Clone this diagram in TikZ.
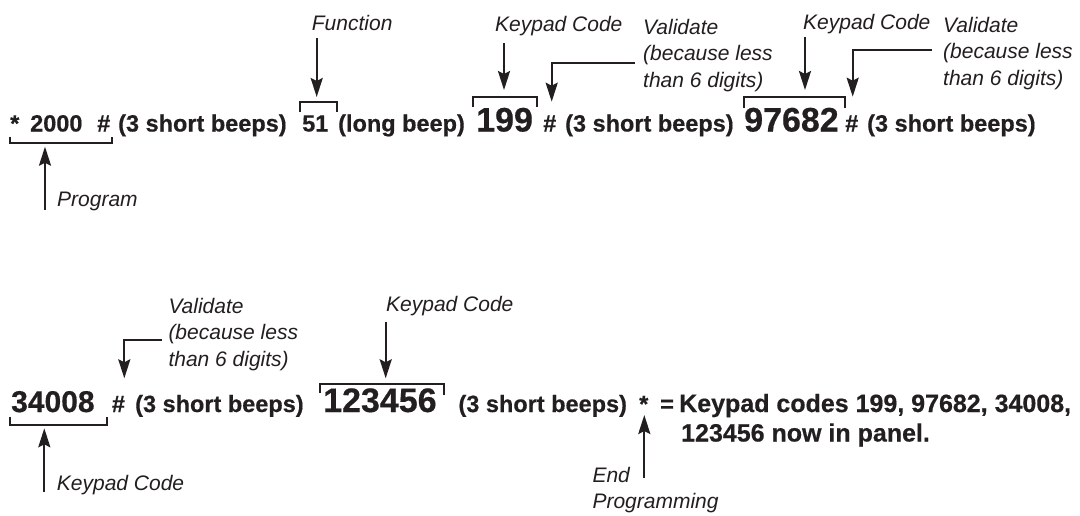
\documentclass[tikz,border=0pt]{standalone}
\usepackage{fontspec}
\setmainfont{Liberation Sans}
\newfontfamily\heavyfont[FakeBold=0.5]{Liberation Sans Bold}
\usetikzlibrary{arrows.meta}
\definecolor{ink}{RGB}{35,31,32}
\tikzset{
  txt/.style={inner sep=0pt, anchor=base west, text=ink, font=\heavyfont\fontsize{23.5}{28}\selectfont},
  bigtxt/.style={inner sep=0pt, anchor=base west, text=ink, font=\heavyfont\fontsize{34}{40}\selectfont},
  midtxt/.style={inner sep=0pt, anchor=base west, text=ink, font=\heavyfont\fontsize{30}{36}\selectfont},
  fintxt/.style={inner sep=0pt, anchor=base west, text=ink, font=\heavyfont\fontsize{25}{29}\selectfont},
  lbl/.style={inner sep=0pt, anchor=base west, text=ink, font=\itshape\fontsize{21}{26}\selectfont},
  mlbl/.style={inner sep=0pt, anchor=north west, text=ink, align=left, font=\itshape\fontsize{21}{26.5}\selectfont},
  arr/.style={draw=ink, line width=2.3pt, -{Stealth[length=19pt,width=12pt,inset=3pt]}},
  brk/.style={draw=ink, line width=2pt},
}
\begin{document}
\begin{tikzpicture}[x=1pt,y=-1pt]
\useasboundingbox[fill=white] (0,0) rectangle (1080,515);

% ---------- line 1 ----------
\node[txt] (star1) at (10,131.5) {*};
\node[txt] (n2000) at (30,131.5) {2000};
\node[txt] (hash1) at (97,131.5) {\#};
\node[txt] (beeps1) at (118,131.5) {(3 short beeps)};
\node[txt] (f51) at (302,131.5) {51};
\node[txt] (longb) at (338,131.5) {(long beep)};
\node[bigtxt] (c199) at (476,131.5) {199};
\node[txt] (hash2) at (543,131.5) {\#};
\node[txt] (beeps2) at (565,131.5) {(3 short beeps)};
\node[bigtxt] (c97682) at (744,131.5) {97682};
\node[txt] (hash3) at (845,131.5) {\#};
\node[txt] (beeps3) at (867,131.5) {(3 short beeps)};

% labels line 1
\node[lbl] (lprog) at (57,206) {Program};
\node[lbl] (lfunc) at (311.7,30) {Function};
\node[lbl] (lkc1) at (495,31) {Keypad Code};
\node[mlbl] (lval1) at (643,19) {Validate\\(because less\\than 6 digits)};
\node[lbl] (lkc2) at (803,29.3) {Keypad Code};
\node[mlbl] (lval2) at (943,17) {Validate\\(because less\\than 6 digits)};

% brackets line 1
\draw[brk] (10,136.5) -- (10,143) -- (112,143) -- (112,136.5);
\draw[brk] (300,112) -- (300,101.7) -- (337,101.7) -- (337,112);
\draw[brk] (472.7,107.3) -- (472.7,97.3) -- (536.7,97.3) -- (536.7,107.3);
\draw[brk] (744,108) -- (744,96.7) -- (845,96.7) -- (845,108);

% arrow ends line 1
\coordinate (progT) at (45,210);
\coordinate (progH) at (45,146.7);
\coordinate (funcT) at (316.7,38);
\coordinate (funcH) at (316.7,97);
\coordinate (kc1T) at (504,43);
\coordinate (kc1H) at (504,90);
\coordinate (val1T) at (635,63.3);
\coordinate (val1H) at (551.7,101.7);
\coordinate (kc2T) at (805,36.7);
\coordinate (kc2H) at (805,90);
\coordinate (val2T) at (931.7,50);
\coordinate (val2H) at (852.7,96.7);

\draw[arr] (progT) -- (progH);
\draw[arr] (funcT) -- (funcH);
\draw[arr] (kc1T) -- (kc1H);
\draw[arr] (val1T) -| (val1H);
\draw[arr] (kc2T) -- (kc2H);
\draw[arr] (val2T) -| (val2H);

% ---------- line 2 ----------
\node[midtxt] (c34008) at (11,412) {34008};
\node[txt] (hash4) at (111.7,412) {\#};
\node[txt] (beeps4) at (135,412) {(3 short beeps)};
\node[bigtxt] (c123456) at (323,412) {123456};
\node[txt] (beeps5) at (458.3,412) {(3 short beeps)};
\node[txt] (star2) at (639,412) {*};
\node[txt] (eq) at (660,412) {=};
\node[fintxt] (fin1) at (679,412) {Keypad codes 199, 97682, 34008,};
\node[fintxt] (fin2) at (681,441.5) {123456 now in panel.};

% labels line 2
\node[mlbl] (lval3) at (168.3,298) {Validate\\(because less\\than 6 digits)};
\node[lbl] (lkc3) at (386,311.7) {Keypad Code};
\node[lbl] (lkc4) at (56.7,490) {Keypad Code};
\node[mlbl, font=\itshape\fontsize{21}{25.5}\selectfont] (lend) at (592.3,467.5) {End\\Programming};

% brackets line 2
\draw[brk] (10,416.7) -- (10,425) -- (106.7,425) -- (106.7,416.7);
\draw[brk] (320,393) -- (320,384) -- (444,384) -- (444,395);

% arrow ends line 2
\coordinate (val3T) at (161.7,340);
\coordinate (val3H) at (124.3,378.3);
\coordinate (kc3T) at (385.7,321.7);
\coordinate (kc3H) at (385.7,378.3);
\coordinate (kc4T) at (44.3,491.7);
\coordinate (kc4H) at (44.3,428.3);
\coordinate (endT) at (644.3,478.3);
\coordinate (endH) at (644.3,415);

\draw[arr] (val3T) -| (val3H);
\draw[arr] (kc3T) -- (kc3H);
\draw[arr] (kc4T) -- (kc4H);
\draw[arr] (endT) -- (endH);
\end{tikzpicture}
\end{document}
